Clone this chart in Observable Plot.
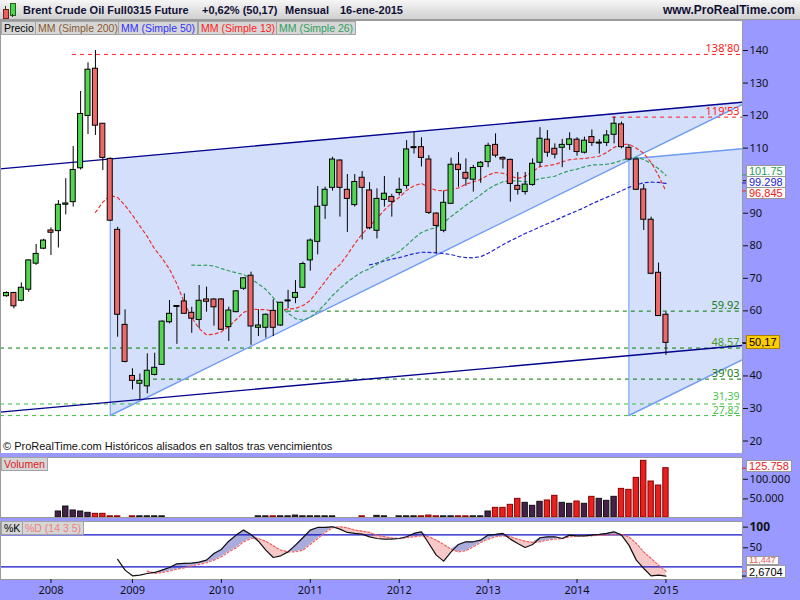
<!DOCTYPE html>
<html><head><meta charset="utf-8">
<script src="https://cdn.jsdelivr.net/npm/d3@7"></script>
<script src="https://cdn.jsdelivr.net/npm/@observablehq/plot@0.6"></script>
<style>
html,body{margin:0;padding:0;background:#9999ff;}
#wrap{position:relative;width:800px;height:600px;overflow:hidden;background:#9999ff;font-family:"Liberation Sans",Arial,sans-serif;}
.a{position:absolute;white-space:nowrap;}
#hdr{left:0;top:0;width:800px;height:19px;background:linear-gradient(#f6f6f6,#d0d0d0);border-bottom:1px solid #9c9c9c;}
.ht{top:0;line-height:20px;font-size:11px;font-weight:bold;color:#101035;}
.btn{height:14px;line-height:13px;font-size:10.5px;background:#d6d6d6;border:1px solid #a4a4a4;padding:0 2px;box-sizing:border-box;}
.vb{font-size:11px;line-height:10px;height:12px;background:#fbfbfb;border:1px solid #9a9a9a;padding:0 2px;box-sizing:border-box;}
</style></head>
<body><div id="wrap"></div>
<script>
// ---------- DATA (monthly, Aug 2007 .. Jan 2015; index 0..89) ----------
const open = [64.5,65.5,63.1,66.5,74.5,79.1,84.7,84.5,92.6,93.4, 103.8,119.9,134.4,117.5,106.7,84.9,55.7,40.0,37.6,36.8, 40.3,43.4,56.5,61.2,62.9,59.4,57.2,63.5,63.5,63.5, 55.0,59.6,66.8,70.8,54.8,54.8,60.0,55.5,62.9,64.0, 67.1,75.5,81.2,92.3,97.8,106.2,97.2,92.5,100.9,97.0, 84.6,94.1,95.0,96.2,98.4,110.0,110.3,106.5,89.9,84.6, 92.9,104.9,102.4,100.3,104.2,105.7,111.0,107.0,106.4,98.4, 96.5,98.7,105.5,112.6,109.8,110.1,111.0,112.6,108.6,113.4, 111.4,111.6,114.1,117.3,110.1,106.5,97.3,88.0,71.7,58.8];
const high = [65.8,65.7,68.6,75.7,80.4,82.0,85.5,93.9,100.6,110.5, 127.4,136.2,140.0,117.5,107.0,85.7,60.3,42.2,40.6,46.8, 47.0,56.9,63.2,61.6,65.2,61.1,67.8,67.3,63.7,63.7, 61.1,66.2,70.2,71.9,60.3,59.1,63.4,62.6,66.3,69.3, 75.0,82.1,98.2,98.0,107.2,106.4,101.9,101.9,102.8,99.4, 97.5,101.3,95.8,100.8,112.3,114.9,113.2,107.7,90.1,96.8, 106.9,108.6,106.7,104.7,105.9,111.5,114.4,107.3,106.6,102.5, 102.5,106.7,116.3,115.4,111.3,112.7,114.7,113.2,113.4,115.6, 112.6,115.4,119.53,118.0,111.1,106.7,98.8,88.8,74.7,59.6];
const low = [64.2,60.6,62.8,65.7,74.0,78.8,77.0,79.3,89.5,91.9, 103.3,114.2,113.9,103.1,87.5,51.9,44.0,35.7,32.7,34.5, 40.0,43.2,56.0,49.7,59.0,53.1,54.5,59.6,55.3,54.0, 50.6,59.4,66.3,49.4,52.1,51.6,52.1,55.2,60.6,62.2, 66.9,72.2,77.2,88.1,96.8,88.8,84.1,91.9,81.8,84.9, 82.1,91.9,88.8,95.3,97.4,108.2,104.2,89.6,77.5,84.0, 92.7,98.0,98.3,96.5,99.2,104.0,107.0,103.6,93.4,95.6, 95.6,98.3,104.2,107.2,106.7,104.0,109.3,107.5,108.2,110.5, 108.2,110.5,111.3,109.8,106.2,97.0,84.7,71.1,58.3,46.3];
const close = [65.5,61.4,67.1,75.5,77.5,81.6,84.0,92.6,93.0,103.3, 120.5,134.1,116.9,107.0,87.7,58.8,44.3,38.5,38.5,41.6, 42.5,56.7,59.1,61.5,59.1,57.6,63.1,62.8,61.1,54.2, 60.1,66.0,70.0,55.2,55.5,58.8,54.8,62.5,63.1,65.5, 74.4,81.6,92.0,97.2,106.5,97.8,94.4,99.6,97.8,85.4, 94.4,96.0,93.5,97.2,109.6,110.1,107.0,90.1,86.1,93.2, 104.9,103.3,100.6,103.9,105.5,110.7,107.7,106.5,99.0,97.2, 98.8,105.2,112.9,108.6,108.0,111.0,112.7,108.8,112.3,111.6, 111.6,113.9,117.5,110.3,106.5,97.2,88.0,71.4,58.4,50.17];
const volume = [0,0,0,0,0,0,0, 15300,28000,17900,15300,11900,9400,9400,3000,3000,0,3000,3000,3000,3000,3000, 0,0,0,0,0,0,0,0,0,0,0,0, 3000,3000,3000,3000,3000,5000,3000,3000,3000,3000,3000, 0,0,0, 3000,0, 4200,3000,0,3000,3000,3000,3000,5000,3000,3000,3000,3000,3000,3000,3000, 15300,24600,24600,32300,47600,37400,29800,40000,43400,55300,37400,34900,40800,34900,52700,47600,42500,52700,73000,70500,101000,144500,91800,81600,125758];
const N = null;
const stochK = [N,N,N,N,N,N,N,N,N,N,N,N,N,N,N, 33.75,13.75,3.1,4.4,7.5,9.4,13.75,18.75,25.6,26.25, 26.9,28.75,32.5,45,52.5,68,79.4,88.75,80.6,68, 51.25,37.5,40.6,48,60.6,74.4,88.75,93.75,93.75,95, 90.6,84.4,82.5,81.25,76,73,71.9,71.9,73,76.25, 82.5,85.6,63.75,41.9,30.6,48,61.9,66.9,66.9,70, 79.4,80.6,82.5,71.9,63.75,56.25,61.9,74.4,76.25,76.25, 73,79.4,78.1,78.1,79.4,80.6,82.5,85.6,79.4,60.6, 32.5,16.9,3.1,4.4,2.67];
const stochD = [N,N,N,N,N,N,N,N,N,N,N,N,N,N,N,N,N,N,N, 11.9,7.5,9.4,11.9,15.6,18.1, 21.9,24.4,27.5,32.5,38.75,48,55.6,66.9,73,73, 68,59.4,51.25,48,48,51.25,61.9,73,84.4,93, 95,93,88.75,86.9,84.4,79,76.5,74,73,74.4, 76.25,78.1,76.25,70,61.9,53.1,48,50,57.5,65.6, 71.9,76.25,78.1,76.25,71.9,68,65.6,66.9,70,71.9, 73,76.25,77.5,78.1,78.1,79.4,79.4,80.6,80.6,76.25, 63.75,48,35.6,23.1,11.447];
const yearIdx = [6,17,29,41,53,65,77,89];
const yearLab = ["2008","2009","2010","2011","2012","2013","2014","2015"];
const priceTicks = [20,30,40,50,60,70,80,90,100,110,120,130,140];
const priceHidden = [50,100];   // labels covered by the value boxes in the original
const levelVals = [138.80,119.53,59.92,48.57,39.03,31.39,27.82];
const levelFrom = [8.9,81.8,37.9,-0.81,18.76,-0.81,-0.81];
const levelText = ["138'80","119'53","59.92","48,57","39'03","31,39","27,82"];
const upperLine = [{x:-1,y:103.6},{x:100,y:124.25}];
const lowerLine = [{x:-1,y:28.86},{x:100,y:49.5}];
const tri1 = [{x:14,hi:106.66,lo:27.85},{x:100,hi:124.25,lo:124.2}];
const tri2 = [{x:84,hi:106.66,lo:27.85},{x:170,hi:124.25,lo:124.2}];
const maLabels = ["101.75","99.298","96,845"];
const maLast = [101.75,99.298,96.845];
const lastPrice = 50.17, lastPriceText = "50,17";
const lastVolText = "125.758";
const stochLast = [11.447, 2.6704], stochLastText = ["11,447","2,6704"];

// ---------- derived tables ----------
const candles = close.map((c,i)=>({i,o:open[i],h:high[i],l:low[i],c}));
function sma(n){const out=[];for(let i=n-1;i<close.length;i++)out.push({i,v:d3.mean(close.slice(i-n+1,i+1))});return out;}
const ma13 = sma(13), ma26 = sma(26), ma50 = sma(50);
const vols = volume.map((v,i)=>({i,v,up:close[i]>=open[i]})).filter(d=>d.v>0);
const stoch = stochK.map((k,i)=>({i,k,d:stochD[i]}));
const kLine = stoch.filter(d=>d.k!=null), dLine = stoch.filter(d=>d.d!=null);
const both = stoch.filter(d=>d.k!=null&&d.d!=null);

const X = [-0.81, 99.33], XR = X[1];
const FONT = "Liberation Sans, Arial, sans-serif";
const GREEN = "#52d652", RED = "#ee6a6a";
const levelColor = ["#ff1a1a","#ff1a1a","#007800","#008000","#007800","#3cc03c","#3cc03c"];
const levelTextColor = ["#ff1a1a","#ff1a1a","#157a15","#4a9a2a","#157a15","#4cc04c","#4cc04c"];
const levelDy = [-6,-6,-6,-6,-6,-7,-5];
const wrap = document.getElementById("wrap");

function div(cls, style, text){const d=document.createElement("div");d.className=cls;d.style.cssText=style;if(text!=null)d.textContent=text;wrap.appendChild(d);return d;}

// ---------- header ----------
const hdr = div("a","",null); hdr.id="hdr";
div("a","left:3px;top:9px;width:4px;height:8px;background:#e86060;border:1px solid #702020;");
div("a","left:5px;top:6px;width:1px;height:3px;background:#333;");
div("a","left:10px;top:3px;width:4px;height:11px;background:#4cd84c;border:1px solid #206020;");
div("a","left:12px;top:14px;width:1px;height:3px;background:#333;");
div("a ht","left:23px;","Brent Crude Oil Full0315 Future");
div("a ht","left:202px;","+0,62% (50,17)");
div("a ht","left:285px;","Mensual");
div("a ht","left:340px;","16-ene-2015");
div("a ht","right:5px;font-size:12px;","www.ProRealTime.com");

// ---------- main price panel ----------
const main = Plot.plot({
  width:800, height:433, marginTop:0, marginBottom:0, marginLeft:0, marginRight:58,
  x:{domain:X, axis:null},
  y:{domain:[16.17,149.22]},
  style:{background:"transparent", overflow:"visible", fontFamily:FONT},
  marks:[
    Plot.frame({fill:"white", stroke:"none"}),
    Plot.areaY(tri1,{x:"x",y1:"lo",y2:"hi",fill:"#d4e0fb",clip:true}),
    Plot.areaY(tri2,{x:"x",y1:"lo",y2:"hi",fill:"#d4e0fb",clip:true}),
    ...levelVals.map((v,k)=>Plot.ruleY([v],{y:d=>d,x1:()=>levelFrom[k],x2:()=>XR,stroke:levelColor[k],strokeDasharray:"4,4",strokeWidth:1})),
    Plot.ruleX([14],{x:d=>d,y1:()=>tri1[0].lo,y2:()=>tri1[0].hi,stroke:"#6f9cf2"}),
    Plot.line([{x:14,y:27.85},{x:100,y:124.2}],{x:"x",y:"y",stroke:"#6f9cf2",clip:true}),
    Plot.ruleX([84],{x:d=>d,y1:()=>tri2[0].lo,y2:()=>tri2[0].hi,stroke:"#6f9cf2"}),
    Plot.line([{x:84,y:27.85},{x:170,y:124.2}],{x:"x",y:"y",stroke:"#6f9cf2",clip:true}),
    Plot.line([{x:84,y:106.66},{x:170,y:124.25}],{x:"x",y:"y",stroke:"#6f9cf2",clip:true}),
    Plot.line(upperLine,{x:"x",y:"y",stroke:"#00008c",strokeWidth:1.4,clip:true}),
    Plot.line(lowerLine,{x:"x",y:"y",stroke:"#00008c",strokeWidth:1.4,clip:true}),
    Plot.line(ma50,{x:"i",y:"v",stroke:"#2424d8",strokeWidth:1.2,strokeDasharray:"3,3"}),
    Plot.line(ma26,{x:"i",y:"v",stroke:"#2e9e5a",strokeWidth:1.2,strokeDasharray:"3,3"}),
    Plot.line(ma13,{x:"i",y:"v",stroke:"#f03030",strokeWidth:1.2,strokeDasharray:"3,3"}),
    Plot.ruleX(candles,{x:"i",y1:"l",y2:"h",stroke:"black",strokeWidth:1}),
    Plot.rect(candles.filter(d=>d.c>=d.o),{x1:d=>d.i-0.34,x2:d=>d.i+0.34,y1:"o",y2:d=>Math.max(d.c,d.o+0.3),fill:GREEN,stroke:"black",strokeWidth:1}),
    Plot.rect(candles.filter(d=>d.c<d.o),{x1:d=>d.i-0.34,x2:d=>d.i+0.34,y1:"c",y2:d=>Math.max(d.o,d.c+0.3),fill:RED,stroke:"black",strokeWidth:1}),
    ...levelVals.map((v,k)=>Plot.text([v],{y:d=>d,x:()=>XR,text:()=>levelText[k],textAnchor:"end",dx:-3,dy:levelDy[k],fill:levelTextColor[k],fontSize:k>=5?10.5:11})),
    Plot.frame({stroke:"#9a9a9a"}),
    Plot.axisY(priceTicks,{anchor:"right",tickSize:5,tickPadding:2,fontSize:11,label:null,color:"#111",tickFormat:d=>priceHidden.includes(d)?"":String(d)}),
    Plot.ruleY([maLast[0]],{y:d=>d,x1:()=>XR,x2:()=>XR+0.7,stroke:"#2e9e5a"}),
    Plot.ruleY([maLast[1]],{y:d=>d,x1:()=>XR,x2:()=>XR+0.7,stroke:"#2424d8"}),
    Plot.ruleY([maLast[2]],{y:d=>d,x1:()=>XR,x2:()=>XR+0.7,stroke:"#f03030"}),
    Plot.ruleY([lastPrice],{y:d=>d,x1:()=>XR,x2:()=>XR+0.7,stroke:"black"})
  ]
});
main.style.cssText="position:absolute;left:0;top:20px;";
wrap.appendChild(main);

// ---------- volume panel ----------
const vol = Plot.plot({
  width:800, height:65, marginTop:2, marginBottom:3, marginLeft:0, marginRight:58,
  x:{domain:X, axis:null},
  y:{domain:[0,153000]},
  style:{background:"transparent", overflow:"visible", fontFamily:FONT},
  marks:[
    Plot.frame({fill:"white", stroke:"none"}),
    Plot.rect(vols.filter(d=>d.up),{x1:d=>d.i-0.36,x2:d=>d.i+0.36,y1:0,y2:"v",fill:"#46204a",stroke:"#111",strokeWidth:1}),
    Plot.rect(vols.filter(d=>!d.up),{x1:d=>d.i-0.36,x2:d=>d.i+0.36,y1:0,y2:"v",fill:"#e8201e",stroke:"#8a0000",strokeWidth:1}),
    Plot.frame({stroke:"#9a9a9a"}),
    Plot.axisY([50000,100000],{anchor:"right",tickSize:5,tickPadding:2,fontSize:11,label:null,color:"#111",dy:1,tickFormat:d=>d3.format(",")(d).replace(/,/g,".")}),
    Plot.ruleY([volume[89]],{y:d=>d,x1:()=>XR,x2:()=>XR+0.7,stroke:"#e8201e"})
  ]
});
vol.style.cssText="position:absolute;left:0;top:455px;";
wrap.appendChild(vol);

// ---------- stochastic panel ----------
const st = Plot.plot({
  width:800, height:82, marginTop:3, marginBottom:21, marginLeft:0, marginRight:58,
  x:{domain:X},
  y:{domain:[-3.8,104.9]},
  style:{background:"transparent", overflow:"visible", fontFamily:FONT},
  marks:[
    Plot.frame({fill:"white", stroke:"none"}),
    Plot.areaY(both,{x:"i",y1:"d",y2:d=>Math.max(d.k,d.d),fill:"#a9acdc"}),
    Plot.areaY(both,{x:"i",y1:"d",y2:d=>Math.min(d.k,d.d),fill:"#f6c8c8"}),
    Plot.ruleY([20,80],{stroke:"#1010c8",strokeWidth:1.2}),
    Plot.line(dLine,{x:"i",y:"d",stroke:"#ee6060",strokeWidth:1.2,strokeDasharray:"2,2"}),
    Plot.line(kLine,{x:"i",y:"k",stroke:"#111",strokeWidth:1.2}),
    Plot.frame({stroke:"#9a9a9a"}),
    Plot.axisY([100],{anchor:"right",tickSize:5,tickPadding:2,fontSize:12,fontWeight:"bold",label:null,color:"#111",dy:3}),
    Plot.axisY([50],{anchor:"right",tickSize:5,tickPadding:2,fontSize:11,label:null,color:"#111",dy:-3}),
    Plot.axisX(yearIdx,{anchor:"bottom",tickSize:4,tickPadding:3,fontSize:11,label:null,color:"#111",tickFormat:d=>yearLab[yearIdx.indexOf(d)]}),
    Plot.ruleY([stochLast[0]],{y:d=>d,x1:()=>XR,x2:()=>XR+0.7,stroke:"#ee6060"}),
    Plot.ruleY([stochLast[1]],{y:d=>d,x1:()=>XR,x2:()=>XR+0.7,stroke:"black"})
  ]
});
st.style.cssText="position:absolute;left:0;top:518px;";
wrap.appendChild(st);

// ---------- legends / captions ----------
div("a btn","left:1px;top:21px;color:#000;","Precio");
div("a btn","left:35px;top:21px;color:#8a5a30;","MM (Simple 200)");
div("a btn","left:118px;top:21px;color:#3030ff;","MM (Simple 50)");
div("a btn","left:198px;top:21px;color:#ff2020;","MM (Simple 13)");
div("a btn","left:276px;top:21px;color:#30a060;","MM (Simple 26)");
div("a","left:3px;top:439px;font-size:11px;line-height:14px;color:#111;","© ProRealTime.com  Históricos alisados en saltos tras vencimientos");
div("a btn","left:1px;top:457px;color:#e02020;","Volumen");
div("a btn","left:1px;top:521px;color:#000;","%K");
div("a btn","left:22px;top:521px;color:#f08080;","%D (14 3 5)");

// ---------- value boxes on the right scale ----------
const ym = main.scale("y"), yv = vol.scale("y"), ys = st.scale("y");
const maColors = ["#2e9e5a","#2020e0","#f02020"];
let t0 = 20 + ym.apply(maLast[0]) - 9.5;
maLabels.forEach((t,k)=>div("a vb",`left:746px;top:${t0+k*11}px;color:${maColors[k]};`,t));
div("a vb",`left:746px;top:${20+ym.apply(lastPrice)-7}px;height:14px;line-height:12px;background:#ffcc00;border-color:#a88400;color:#000;`,lastPriceText);
div("a vb",`left:746px;top:${455+yv.apply(volume[89])-8}px;color:#e8201e;`,lastVolText);
const b2 = Math.min(518+ys.apply(stochLast[1])-6.5, 565);
div("a vb",`left:746px;top:${b2-9}px;height:9px;line-height:7px;font-size:9px;color:#ee6060;`,stochLastText[0]);
div("a vb",`left:746px;top:${b2}px;height:13px;line-height:12px;color:#000;`,stochLastText[1]);
</script></body></html>
